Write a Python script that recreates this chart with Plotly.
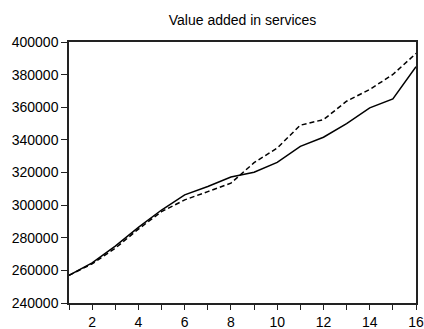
import plotly.graph_objects as go

periods = list(range(1, 17))
actual = [257000, 264600, 274900, 286400, 297000, 306300, 311400, 317200,
          320200, 326200, 336000, 341600, 350000, 359600, 365100, 384900]
fitted = [257000, 264000, 273600, 285300, 296000, 303200, 308300, 313500,
          326000, 335000, 349000, 352400, 363700, 370900, 380100, 393000]

x_tick_vals = periods
x_tick_text = [str(p) if p % 2 == 0 else "" for p in periods]
y_tick_vals = [240000, 260000, 280000, 300000, 320000, 340000, 360000, 380000, 400000]

fig = go.Figure()
fig.add_trace(
    go.Scatter(
        x=periods,
        y=actual,
        mode="lines",
        line={"color": "black", "width": 1.5},
        name="Actual",
    )
)
fig.add_trace(
    go.Scatter(
        x=periods,
        y=fitted,
        mode="lines",
        line={"color": "black", "width": 1.5, "dash": "5px,3px"},
        name="Fitted",
    )
)

axis_style = {
    "showline": True,
    "linecolor": "#222",
    "linewidth": 1.5,
    "mirror": True,
    "showgrid": False,
    "zeroline": False,
    "automargin": False,
    "ticks": "outside",
    "ticklen": 6,
    "tickcolor": "#222",
    "tickfont": {"family": "Arial, Liberation Sans", "size": 14, "color": "black"},
}

fig.update_layout(
    width=424,
    height=329,
    margin={"l": 69, "r": 8, "t": 42, "b": 26},
    paper_bgcolor="white",
    plot_bgcolor="white",
    showlegend=False,
    title={
        "text": "Value added in services",
        "x": 0.572,
        "xanchor": "center",
        "y": 0.939,
        "yanchor": "middle",
        "font": {"family": "Arial, Liberation Sans", "size": 14, "color": "black"},
    },
    xaxis={
        **axis_style,
        "range": [1, 16],
        "tickvals": x_tick_vals,
        "ticktext": x_tick_text,
        "ticklen": 5,
    },
    yaxis={
        **axis_style,
        "range": [240000, 400000],
        "tickvals": y_tick_vals,
        "ticktext": [str(v) for v in y_tick_vals],
    },
)

# the page's default body margin and scrollbars would crop the figure
fig.write_html(
    "out.html",
    config={"displayModeBar": False},
    post_script=(
        "document.body.style.margin = '0';"
        "document.body.style.overflow = 'hidden';"
        "document.documentElement.style.overflow = 'hidden';"
    ),
)
